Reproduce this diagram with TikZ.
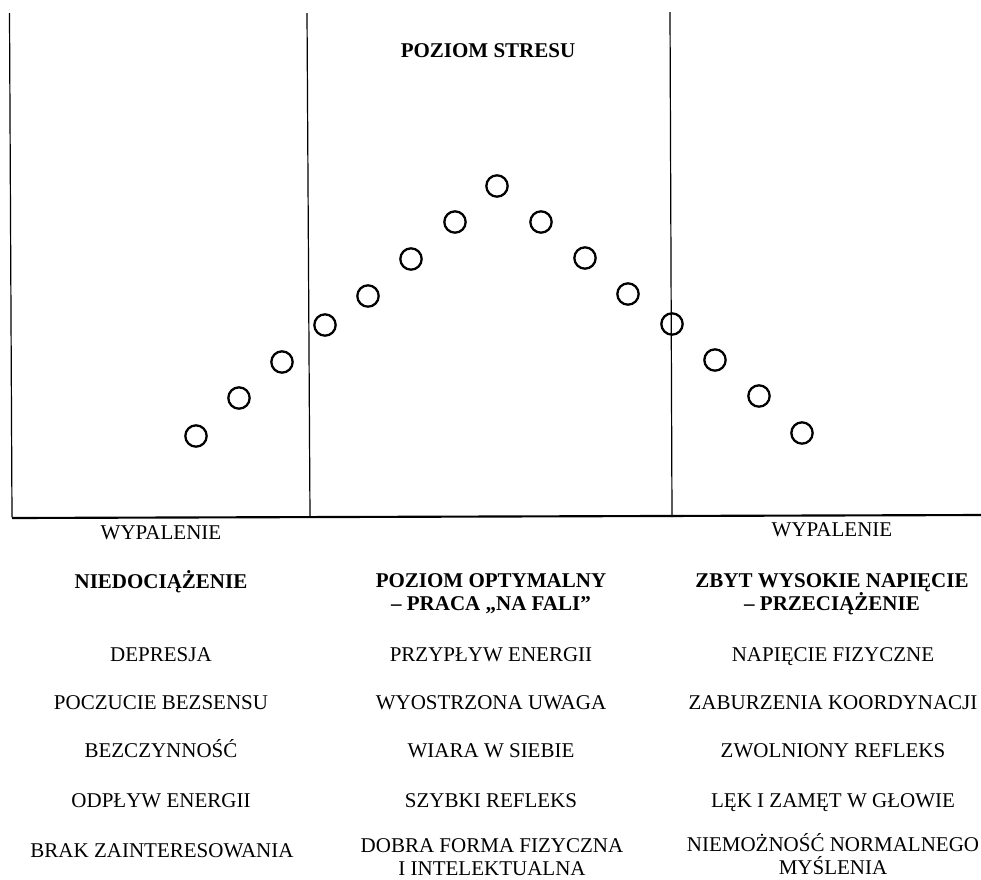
\documentclass[tikz,border=0pt]{standalone}
\usepackage{fontspec}
\setmainfont{Liberation Serif}
\begin{document}
\begin{tikzpicture}[x=0.75pt,y=-0.75pt,
  dot/.style={circle,draw,line width=1.7pt,minimum size=16pt,inner sep=0pt},
  lbl/.style={font=\fontsize{15.75}{17.25}\selectfont,anchor=base,align=center,inner sep=0pt},
  hdr/.style={font=\fontsize{15.75}{17.25}\selectfont\bfseries,anchor=base,align=center,inner sep=0pt},
  axisline/.style={line width=0.9pt},
  baseline/.style={line width=1.6pt}
]
\useasboundingbox (0,0) rectangle (981,879);
\fill[white] (0,0) rectangle (981,879);

% frame lines
\coordinate (L1t) at (9.5,13);  \coordinate (L1b) at (12,517);
\coordinate (L2t) at (307,13);  \coordinate (L2b) at (310,517);
\coordinate (L3t) at (670,12);  \coordinate (L3b) at (672,517);
\coordinate (Bl) at (12,518);   \coordinate (Br) at (981,515);
\draw[axisline] (L1t) -- (L1b);
\draw[axisline] (L2t) -- (L2b);
\draw[axisline] (L3t) -- (L3b);
\draw[baseline] (Bl) -- (Br);

% title
\node[hdr] (title) at (488,57) {POZIOM STRESU};

% dots
\node[dot] (c1)  at (196,436) {};
\node[dot] (c2)  at (239,398) {};
\node[dot] (c3)  at (282,362) {};
\node[dot] (c4)  at (325,325) {};
\node[dot] (c5)  at (368,296) {};
\node[dot] (c6)  at (411,259) {};
\node[dot] (c7)  at (455,222) {};
\node[dot] (c8)  at (497,186) {};
\node[dot] (c9)  at (541,222) {};
\node[dot] (c10) at (585,258) {};
\node[dot] (c11) at (628,294) {};
\node[dot] (c12) at (672,324) {};
\node[dot] (c13) at (715,360) {};
\node[dot] (c14) at (759,396) {};
\node[dot] (c15) at (802,433) {};

% labels under the axis
\node[lbl] (w1) at (161,539) {WYPALENIE};
\node[lbl] (w2) at (832,536) {WYPALENIE};

\node[hdr] (h1) at (161,588) {NIEDOCIĄŻENIE};
\node[hdr] (h2) at (491,610) {POZIOM OPTYMALNY\\– PRACA „NA FALI”};
\node[hdr] (h3) at (832,610) {ZBYT WYSOKIE NAPIĘCIE\\– PRZECIĄŻENIE};

\node[lbl] (a1) at (161,661) {DEPRESJA};
\node[lbl] (a2) at (161,709) {POCZUCIE BEZSENSU};
\node[lbl] (a3) at (161,757) {BEZCZYNNOŚĆ};
\node[lbl] (a4) at (161,807) {ODPŁYW ENERGII};
\node[lbl] (a5) at (162,857) {BRAK ZAINTERESOWANIA};

\node[lbl] (b1) at (491,661) {PRZYPŁYW ENERGII};
\node[lbl] (b2) at (491,709) {WYOSTRZONA UWAGA};
\node[lbl] (b3) at (491,757) {WIARA W SIEBIE};
\node[lbl] (b4) at (491,807) {SZYBKI REFLEKS};
\node[lbl] (b5) at (492,875) {DOBRA FORMA FIZYCZNA\\I INTELEKTUALNA};

\node[lbl] (r1) at (833,661) {NAPIĘCIE FIZYCZNE};
\node[lbl] (r2) at (833,709) {ZABURZENIA KOORDYNACJI};
\node[lbl] (r3) at (833,757) {ZWOLNIONY REFLEKS};
\node[lbl] (r4) at (833,807) {LĘK I ZAMĘT W GŁOWIE};
\node[lbl] (r5) at (833,874) {NIEMOŻNOŚĆ NORMALNEGO\\MYŚLENIA};
\end{tikzpicture}
\end{document}
